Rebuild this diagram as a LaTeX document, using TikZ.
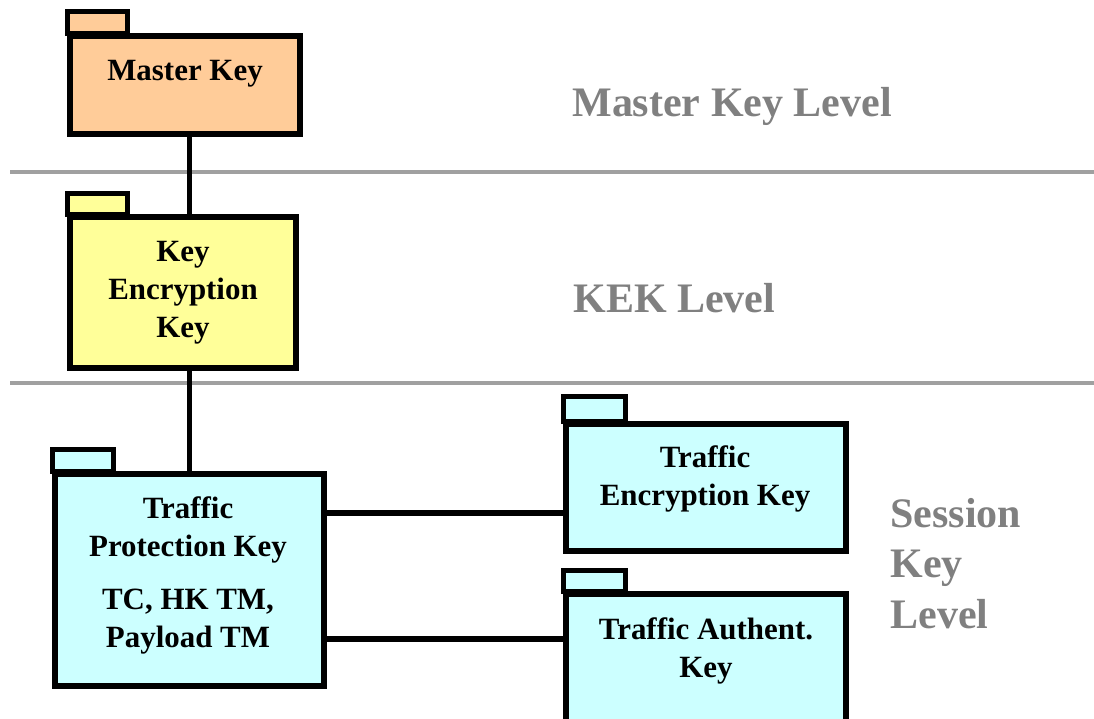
\documentclass[tikz,border=0pt]{standalone}
\usepackage{fontspec}
\setmainfont{Liberation Serif}
\usepackage{tikz}
\usetikzlibrary{positioning}
\definecolor{masterfill}{HTML}{FFCC99}
\definecolor{kekfill}{HTML}{FFFF99}
\definecolor{sessionfill}{HTML}{CCFFFF}
\definecolor{levelgray}{HTML}{808080}
\definecolor{linegray}{HTML}{A0A0A0}

\begin{document}
\begin{tikzpicture}[x=0.02cm, y=-0.02cm,
    folder/.style={draw, line width=3.1pt, inner sep=0pt},
    tab/.style={draw, line width=3.1pt},
    keytext/.style={font=\fontsize{17.6}{21.6}\selectfont\bfseries, align=center, anchor=base},
    leveltext/.style={font=\fontsize{23.9}{28.5}\selectfont\bfseries, text=levelgray, align=left, anchor=base west, inner sep=0pt},
    link/.style={line width=3pt},
    levelline/.style={draw=linegray, line width=2.2pt}]
  \useasboundingbox (0,0) rectangle (1094,719);
  \clip (0,0) rectangle (1094,719);

  % level separators
  \draw[levelline] (10,172) -- (1094,172);
  \draw[levelline] (10,383) -- (1094,383);

  % master key
  \node[folder, fill=masterfill, minimum width=4.6cm, minimum height=1.96cm] (mk) at (185,85) {};
  \draw[tab, fill=masterfill] (mk.north west) rectangle ++(60,-22);
  \node[keytext] (mk label) at (185,81) {Master Key};

  % key encryption key (base = last line)
  \node[folder, fill=kekfill, minimum width=4.52cm, minimum height=3.02cm] (kek) at (183,292.5) {};
  \draw[tab, fill=kekfill] (kek.north west) rectangle ++(60,-21);
  \node[keytext] (kek label) at (183,337) {Key\\Encryption\\Key};

  % traffic protection key
  \node[folder, fill=sessionfill, minimum width=5.38cm, minimum height=4.24cm] (tpk) at (189.5,580) {};
  \draw[tab, fill=sessionfill] (tpk.north west) rectangle ++(61,-22);
  \node[keytext] (tpk label) at (188,647) {Traffic\\Protection Key\\[0.3cm]TC, HK TM,\\Payload TM};

  % traffic encryption key
  \node[folder, fill=sessionfill, minimum width=5.6cm, minimum height=2.54cm] (tek) at (706,487.5) {};
  \draw[tab, fill=sessionfill] (tek.north west) rectangle ++(62,-25);
  \node[keytext] (tek label) at (705,505) {Traffic\\Encryption Key};

  % traffic authentication key
  \node[folder, fill=sessionfill, minimum width=5.6cm, minimum height=2.72cm] (tak) at (706,662) {};
  \draw[tab, fill=sessionfill] (tak.north west) rectangle ++(62,-21);
  \node[keytext] (tak label) at (706,677) {Traffic Authent.\\Key};

  % links
  \draw[link] (mk.south -| tpk.north) -- (kek.north -| tpk.north);
  \draw[link] (kek.south -| tpk.north) -- (tpk.north);
  \draw[link] ([yshift=1.34cm]tpk.east) -- ([yshift=1.34cm]tpk.east -| tek.west);
  \draw[link] ([yshift=-1.18cm]tpk.east) -- ([yshift=-1.18cm]tpk.east -| tak.west);

  % levels
  \node[leveltext] (master level) at (572,117) {Master Key Level};
  \node[leveltext] (kek level) at (573,313) {KEK Level};
  \node[leveltext] (session level) at (890,628) {Session\\Key\\Level};
\end{tikzpicture}
\end{document}
